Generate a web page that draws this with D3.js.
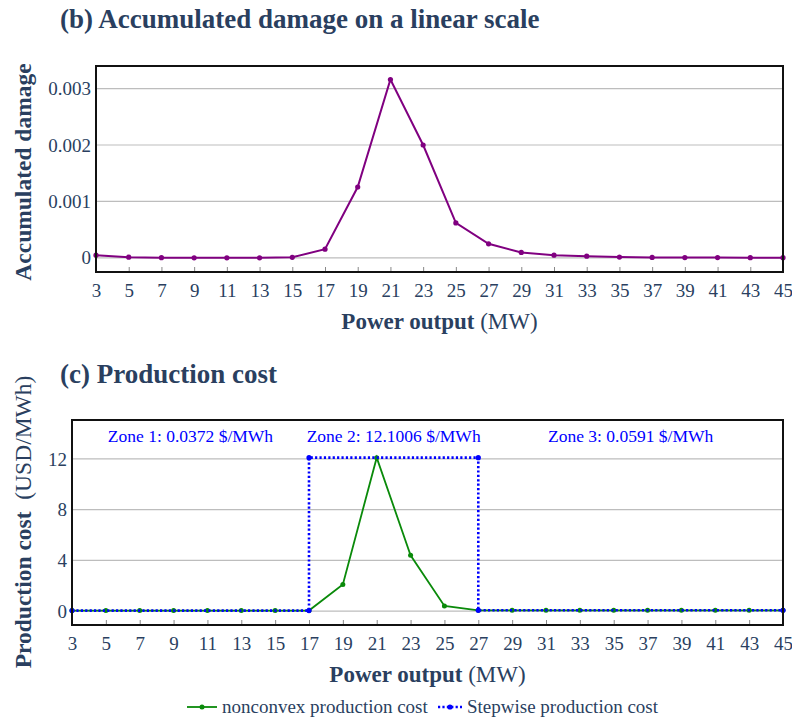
<!DOCTYPE html>
<html>
<head>
<meta charset="utf-8">
<script src="https://cdn.jsdelivr.net/npm/d3@7"></script>
<style>
  body { margin: 0; background: #fff; }
  svg { display: block; font-family: "Liberation Serif", "Times New Roman", serif; }
</style>
</head>
<body>
<div id="container"></div>
<script>
// ---------------- data ----------------
const power = [3, 5, 7, 9, 11, 13, 15, 17, 19, 21, 23, 25, 27, 29, 31, 33, 35, 37, 39, 41, 43, 45];
const damage = [0.000048, 0.000012, 0.000003, 0.000002, 0.000002, 0.000002, 0.00001, 0.000155,
  0.001256, 0.00316, 0.002, 0.00062, 0.00025, 0.000096, 0.000048, 0.00003, 0.000014,
  0.000008, 0.000006, 0.000005, 0.000004, 0.000004];
const nonconvexCost = [0.04, 0.04, 0.04, 0.04, 0.04, 0.04, 0.04, 0.04, 2.1, 12.1, 4.4, 0.4,
  0.06, 0.06, 0.06, 0.06, 0.06, 0.06, 0.06, 0.06, 0.06, 0.06];
const stepX = [3, 17, 17, 27, 27, 45];
const stepCost = [0.0372, 0.0372, 12.1006, 12.1006, 0.0591, 0.0591];
const zoneX = [10, 22, 36];
const zoneLabels = ["Zone 1: 0.0372 $/MWh", "Zone 2: 12.1006 $/MWh", "Zone 3: 0.0591 $/MWh"];
const damageTicks = [0, 0.001, 0.002, 0.003];
const costTicks = [0, 4, 8, 12];
const xTicks = d3.range(3, 46, 2);

const W = 792, H = 722;
const textColor = "#2a3f5f";
const serif = "Liberation Serif";

const svg = d3.select("#container").append("svg")
  .attr("width", W).attr("height", H);

// draws one panel (grid, axes, titles), returns scales
function panel(opt) {
  const x = d3.scaleLinear().domain([3, 45]).range([opt.left, opt.right]);
  const y = d3.scaleLinear().domain(opt.yDomain).range([opt.bottom, opt.top]);
  const g = svg.append("g");

  // grid
  g.append("g").selectAll("line").data(opt.yTicks).join("line")
    .attr("x1", opt.left).attr("x2", opt.right)
    .attr("y1", d => y(d)).attr("y2", d => y(d))
    .attr("stroke", "#bdbdbd").attr("stroke-width", 1.2);

  // x axis, ticks point inward
  const xa = g.append("g")
    .attr("transform", "translate(0," + opt.bottom + ")")
    .call(d3.axisBottom(x).tickValues(xTicks).tickSizeInner(-5).tickSizeOuter(0).tickPadding(11.5));
  xa.select(".domain").remove();
  xa.selectAll(".tick line").attr("stroke", "#888");
  xa.selectAll("text").attr("font-size", 19).attr("fill", textColor).attr("font-family", serif);

  // y axis labels only
  const ya = g.append("g")
    .attr("transform", "translate(" + opt.left + ",0)")
    .call(d3.axisLeft(y).tickValues(opt.yTicks).tickSize(0).tickPadding(5).tickFormat(opt.fmt));
  ya.select(".domain").remove();
  ya.selectAll("text").attr("font-size", 19).attr("fill", textColor).attr("font-family", serif);

  // titles
  svg.append("text").attr("x", 60).attr("y", opt.titleY)
    .attr("font-size", 27).attr("font-weight", "bold").attr("fill", textColor)
    .text(opt.title);

  const xt = svg.append("text").attr("x", (opt.left + opt.right) / 2).attr("y", opt.bottom + 57)
    .attr("text-anchor", "middle").attr("font-size", 23).attr("fill", textColor);
  xt.append("tspan").attr("font-weight", "bold").text("Power output");
  xt.append("tspan").text(" (MW)");

  const yt = svg.append("text")
    .attr("transform", "translate(31," + opt.yTitleMid + ") rotate(-90)")
    .attr("text-anchor", "middle").attr("font-size", 23.5).attr("fill", textColor);
  yt.append("tspan").attr("font-weight", "bold").text(opt.yTitle);
  if (opt.yUnit) yt.append("tspan").attr("xml:space", "preserve").text("  " + opt.yUnit);

  return { x, y, g, opt };
}

function frame(p) {
  const o = p.opt;
  svg.append("rect").attr("x", o.left).attr("y", o.top)
    .attr("width", o.right - o.left).attr("height", o.bottom - o.top)
    .attr("fill", "none").attr("stroke", "#111").attr("stroke-width", 2);
}

// ---------------- (b) damage ----------------
const pb = panel({
  left: 96, right: 783, top: 66, bottom: 272,
  yDomain: [-0.00025, 0.0034], yTicks: damageTicks,
  fmt: d => d === 0 ? "0" : d3.format(".3f")(d),
  title: "(b) Accumulated damage on a linear scale", titleY: 28,
  yTitle: "Accumulated damage", yTitleMid: 172
});
const dmgLine = d3.line().x((d, i) => pb.x(power[i])).y(d => pb.y(d));
pb.g.append("path").datum(damage).attr("d", dmgLine)
  .attr("fill", "none").attr("stroke", "#800080").attr("stroke-width", 2);
pb.g.selectAll(".dmg").data(damage).join("circle")
  .attr("cx", (d, i) => pb.x(power[i])).attr("cy", d => pb.y(d))
  .attr("r", 2.6).attr("fill", "#800080");
frame(pb);

// ---------------- (c) production cost ----------------
const pc = panel({
  left: 72, right: 783, top: 420, bottom: 625,
  yDomain: [-1.1, 15.07], yTicks: costTicks,
  fmt: d => d,
  title: "(c) Production cost", titleY: 383,
  yTitle: "Production cost", yUnit: "(USD/MWh)", yTitleMid: 522
});
const costLine = d3.line().x((d, i) => pc.x(power[i])).y(d => pc.y(d));
pc.g.append("path").datum(nonconvexCost).attr("d", costLine)
  .attr("fill", "none").attr("stroke", "#0a8a0a").attr("stroke-width", 1.8);
pc.g.selectAll(".nc").data(nonconvexCost).join("circle")
  .attr("cx", (d, i) => pc.x(power[i])).attr("cy", d => pc.y(d))
  .attr("r", 2.5).attr("fill", "#0a8a0a");

const stepLine = d3.line().x((d, i) => pc.x(stepX[i])).y(d => pc.y(d));
pc.g.append("path").datum(stepCost).attr("d", stepLine)
  .attr("fill", "none").attr("stroke", "#0000ff").attr("stroke-width", 2.6)
  .attr("stroke-dasharray", "2.2,2.2");
pc.g.selectAll(".st").data(stepCost).join("circle")
  .attr("cx", (d, i) => pc.x(stepX[i])).attr("cy", d => pc.y(d))
  .attr("r", 2.6).attr("fill", "#0000ff");

pc.g.selectAll(".zone").data(zoneLabels).join("text")
  .attr("x", (d, i) => pc.x(zoneX[i])).attr("y", pc.y(13.8) + 6)
  .attr("text-anchor", "middle").attr("font-size", 17.5).attr("fill", "#0000ff")
  .text(d => d);
frame(pc);

// ---------------- legend ----------------
const legend = svg.append("g").attr("transform", "translate(0,707)");
legend.append("line").attr("x1", 187).attr("x2", 217).attr("y1", 0).attr("y2", 0)
  .attr("stroke", "#0a8a0a").attr("stroke-width", 1.8);
legend.append("circle").attr("cx", 202).attr("cy", 0).attr("r", 2.5).attr("fill", "#0a8a0a");
legend.append("text").attr("x", 222).attr("y", 6).attr("font-size", 19).attr("fill", textColor)
  .text("nonconvex production cost");
legend.append("line").attr("x1", 438).attr("x2", 462).attr("y1", 0).attr("y2", 0)
  .attr("stroke", "#0000ff").attr("stroke-width", 2.6).attr("stroke-dasharray", "2.2,2.2");
legend.append("circle").attr("cx", 450).attr("cy", 0).attr("r", 2.6).attr("fill", "#0000ff");
legend.append("text").attr("x", 467).attr("y", 6).attr("font-size", 19).attr("fill", textColor)
  .text("Stepwise production cost");
</script>
</body>
</html>
